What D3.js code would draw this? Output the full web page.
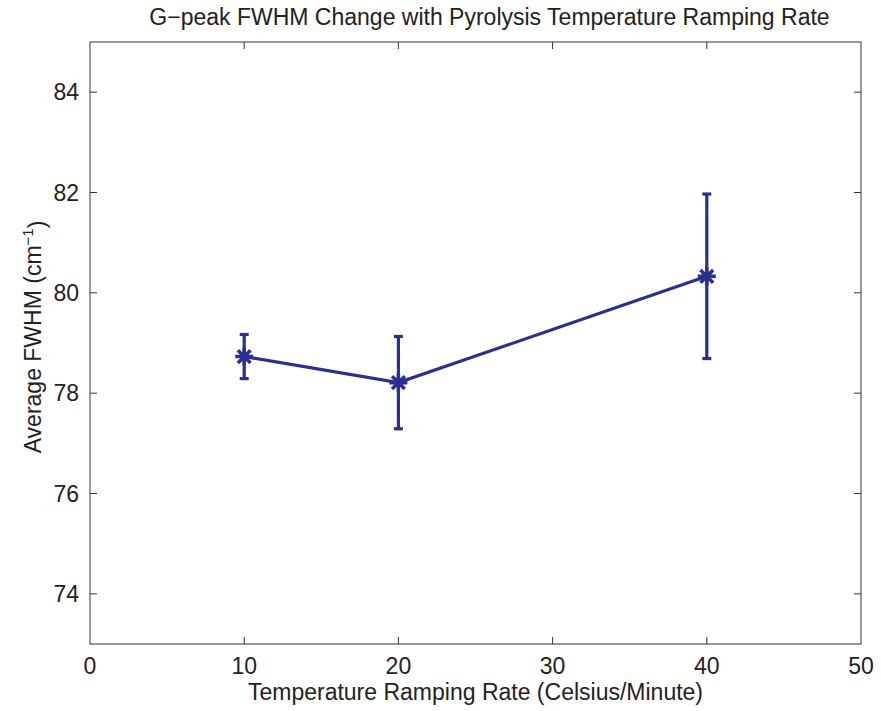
<!DOCTYPE html>
<html>
<head>
<meta charset="utf-8">
<script src="https://cdn.jsdelivr.net/npm/d3@7"></script>
<style>
  body { margin: 0; background: #fff; }
  text { font-family: "Liberation Sans", Arial, sans-serif; fill: #222; }
</style>
</head>
<body>
<div id="chart"></div>
<script>
// data
const rates = [10, 20, 40];
const fwhm = [78.73, 78.21, 80.33];
const errLow = [78.29, 77.29, 78.69];
const errHigh = [79.17, 79.13, 81.97];
const xTicks = [0, 10, 20, 30, 40, 50];
const yTicks = [74, 76, 78, 80, 82, 84];

const margin = { top: 42, right: 20, bottom: 67, left: 90 },
    width = 881 - margin.left - margin.right,
    height = 711 - margin.top - margin.bottom;

const blue = "#2b2f8f";
const fs = "23px";

const svg = d3.select("#chart")
    .append("svg")
    .attr("width", 881)
    .attr("height", 711)
    .append("g")
    .attr("transform", `translate(${margin.left}, ${margin.top})`);

const x = d3.scaleLinear().domain([0, 50]).range([0, width]);
const y = d3.scaleLinear().domain([73, 85]).range([height, 0]);

// frame
svg.append("rect")
    .attr("width", width)
    .attr("height", height)
    .attr("fill", "none")
    .attr("stroke", "#333")
    .attr("stroke-width", 1);

// ticks (inside, all four sides)
const tickLen = 7;
svg.append("g").selectAll("line")
    .data(xTicks.slice(1, -1))
    .join("line")
    .attr("x1", d => x(d)).attr("x2", d => x(d))
    .attr("y1", height).attr("y2", height - tickLen)
    .attr("stroke", "#333");
svg.append("g").selectAll("line")
    .data(xTicks.slice(1, -1))
    .join("line")
    .attr("x1", d => x(d)).attr("x2", d => x(d))
    .attr("y1", 0).attr("y2", tickLen)
    .attr("stroke", "#333");
svg.append("g").selectAll("line")
    .data(yTicks)
    .join("line")
    .attr("x1", 0).attr("x2", tickLen)
    .attr("y1", d => y(d)).attr("y2", d => y(d))
    .attr("stroke", "#333");
svg.append("g").selectAll("line")
    .data(yTicks)
    .join("line")
    .attr("x1", width).attr("x2", width - tickLen)
    .attr("y1", d => y(d)).attr("y2", d => y(d))
    .attr("stroke", "#333");

// tick labels
svg.append("g").selectAll("text")
    .data(xTicks)
    .join("text")
    .attr("x", d => x(d))
    .attr("y", height + 30)
    .attr("text-anchor", "middle")
    .style("font-size", fs)
    .text(d => d);
svg.append("g").selectAll("text")
    .data(yTicks)
    .join("text")
    .attr("x", -11)
    .attr("y", d => y(d))
    .attr("dy", "0.35em")
    .attr("text-anchor", "end")
    .style("font-size", fs)
    .text(d => d);

// title and axis labels
svg.append("text")
    .attr("x", width / 2 + 14)
    .attr("y", -17)
    .attr("text-anchor", "middle")
    .style("font-size", fs)
    .text("G\u2212peak FWHM Change with Pyrolysis Temperature Ramping Rate");

svg.append("text")
    .attr("x", width / 2)
    .attr("y", height + 56)
    .attr("text-anchor", "middle")
    .style("font-size", fs)
    .text("Temperature Ramping Rate (Celsius/Minute)");

const yl = svg.append("text")
    .attr("transform", `translate(-49, ${height / 2 - 6}) rotate(-90)`)
    .attr("text-anchor", "middle")
    .style("font-size", fs);
yl.append("tspan").text("Average FWHM (cm");
yl.append("tspan").attr("dy", "-0.55em").style("font-size", "15px").text("\u22121");
yl.append("tspan").attr("dy", "0.55em").text(")");

const data = rates.map((r, i) => ({ r: r, v: fwhm[i], lo: errLow[i], hi: errHigh[i] }));

// line
svg.append("path")
    .datum(data)
    .attr("fill", "none")
    .attr("stroke", blue)
    .attr("stroke-width", 3.2)
    .attr("d", d3.line().x(d => x(d.r)).y(d => y(d.v)));

// error bars
const eb = svg.append("g").attr("stroke", blue).attr("stroke-width", 3.2);
eb.selectAll("line.v")
    .data(data)
    .join("line")
    .attr("class", "v")
    .attr("x1", d => x(d.r)).attr("x2", d => x(d.r))
    .attr("y1", d => y(d.lo)).attr("y2", d => y(d.hi));
eb.selectAll("line.t")
    .data(data)
    .join("line")
    .attr("class", "t")
    .attr("x1", d => x(d.r) - 4.5).attr("x2", d => x(d.r) + 4.5)
    .attr("y1", d => y(d.hi)).attr("y2", d => y(d.hi));
eb.selectAll("line.b")
    .data(data)
    .join("line")
    .attr("class", "b")
    .attr("x1", d => x(d.r) - 4.5).attr("x2", d => x(d.r) + 4.5)
    .attr("y1", d => y(d.lo)).attr("y2", d => y(d.lo));

// matlab style '*' marker: plus + cross
const r = 9, rd = r * Math.SQRT1_2;
const starPath = `M${-r},0L${r},0M0,${-r}L0,${r}M${-rd},${-rd}L${rd},${rd}M${-rd},${rd}L${rd},${-rd}`;
svg.append("g").selectAll("path")
    .data(data)
    .join("path")
    .attr("transform", d => `translate(${x(d.r)}, ${y(d.v)})`)
    .attr("d", starPath)
    .attr("fill", "none")
    .attr("stroke", blue)
    .attr("stroke-width", 3.5);
</script>
</body>
</html>
